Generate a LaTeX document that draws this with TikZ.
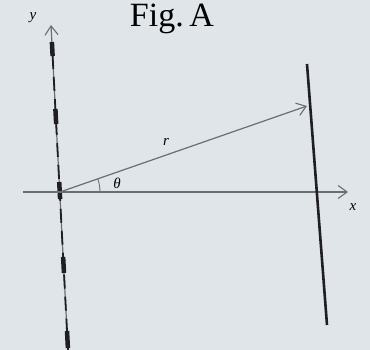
\documentclass[tikz,border=0pt]{standalone}
\usepackage{fontspec}
\setmainfont{Liberation Serif}
\usetikzlibrary{arrows.meta,calc}
\definecolor{paper}{rgb}{0.88,0.90,0.915}
\definecolor{axisgray}{rgb}{0.42,0.43,0.44}
\definecolor{ink}{rgb}{0.12,0.12,0.13}
\tikzset{
  axisline/.style={draw=axisgray,line width=1.2pt},
  openhead/.style={-{Straight Barb[length=9pt,width=13pt,line width=1.1pt]}},
  thindash/.style={draw=ink,line width=1.8pt,dash pattern=on 14pt off 8pt},
  thickblock/.style={draw=ink,line width=4.5pt},
  screen/.style={draw=ink,line width=2.6pt},
  lab/.style={font=\fontsize{15}{15}\selectfont\itshape,inner sep=0pt},
}
\newcommand{\yp}[1]{($(yt)!{(#1-25)/325}!(yb)$)}
\begin{document}
\begin{tikzpicture}[x=1pt,y=-1pt]
\fill[paper] (0,0) rectangle (370,350);
\useasboundingbox (0,0) rectangle (370,350);
% title
\node[anchor=base,inner sep=0pt,font=\fontsize{34}{34}\selectfont] (title) at (172,27) {Fig.\,A};
% coordinates
\coordinate (yt) at (51,25);
\coordinate (yb) at (68,350);
\coordinate (O) at (60,192);
\coordinate (xl) at (23,192);
\coordinate (xt) at (348,192);
\coordinate (P) at (307,106);
\coordinate (s1) at (307,64);
\coordinate (s2) at (327,325);
% y axis
\draw[axisline,openhead] (yb) -- (yt);
\draw[thindash] \yp{55} -- (yb);
\foreach \a/\b in {42/56,109/124,182/199,257/273,331/348}
  \draw[thickblock] \yp{\a} -- \yp{\b};
% x axis
\draw[axisline,openhead] (xl) -- (xt);
% screen
\draw[screen] (s1) -- (s2);
% r vector
\draw[axisline,openhead] (O) -- (P);
% angle arc
\draw[axisline,line width=0.9pt] ($(O)+(40,0)$) arc[start angle=0,end angle=-19.1,radius=40];
% labels
\node[lab] (ylab) at (33,18) {y};
\node[lab] (xlab) at (353,207) {x};
\node[lab] (rlab) at (166,142) {r};
\node[lab] (thlab) at (117,183) {θ};
\end{tikzpicture}
\end{document}
